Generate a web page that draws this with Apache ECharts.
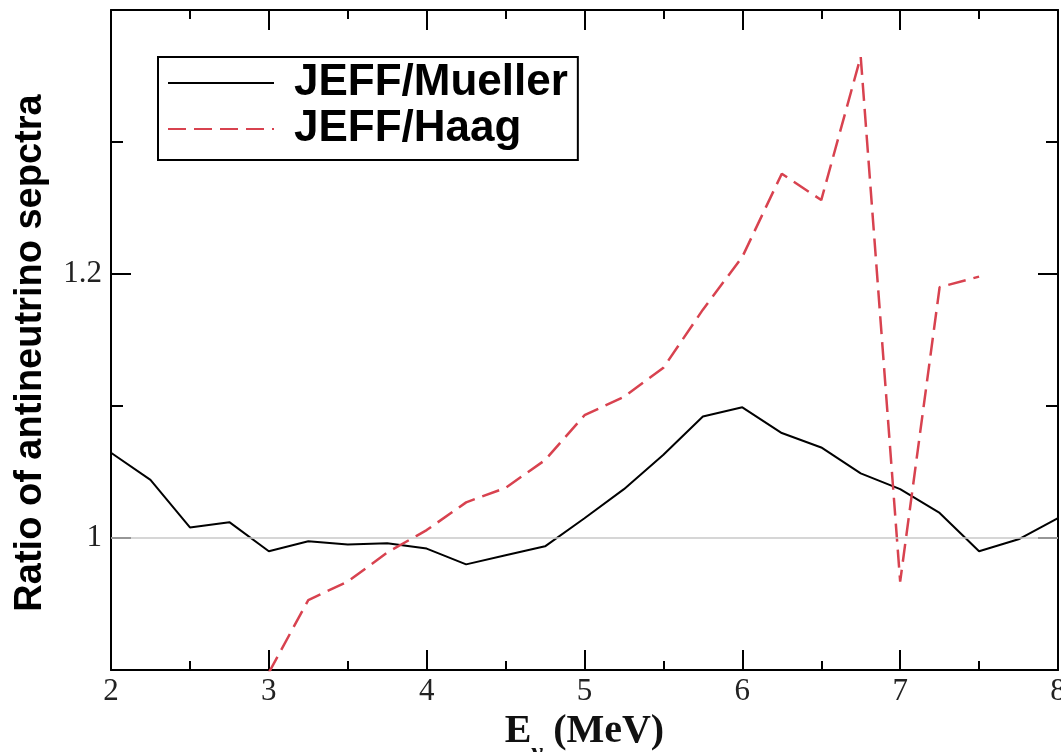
<!DOCTYPE html>
<html>
<head>
<meta charset="utf-8">
<script src="https://cdn.jsdelivr.net/npm/echarts@6/dist/echarts.min.js"></script>
<style>
html,body{margin:0;padding:0;background:#fff;}
#chart{width:1061px;height:752px;}
</style>
</head>
<body>
<div id="chart"></div>
<script>
// Energies (MeV)
var energies = [2, 2.25, 2.5, 2.75, 3, 3.25, 3.5, 3.75, 4, 4.25, 4.5, 4.75, 5, 5.25, 5.5, 5.75, 6, 6.25, 6.5, 6.75, 7, 7.25, 7.5, 7.75, 8];
// JEFF/Mueller ratio
var muellerRatio = [1.0646, 1.044, 1.008, 1.012, 0.990, 0.9975, 0.995, 0.996, 0.992, 0.980, 0.987, 0.9937, 1.015, 1.037, 1.063, 1.092, 1.099, 1.0795, 1.0686, 1.049, 1.037, 1.019, 0.990, 0.999, 1.015];
// JEFF/Haag ratio (null = not drawn)
var haagRatio = [null, null, null, null, 0.898, 0.953, 0.967, 0.989, 1.006, 1.027, 1.038, 1.059, 1.093, 1.107, 1.129, 1.173, 1.213, 1.276, 1.256, 1.3646, 0.967, 1.190, 1.198, null, null];
var seriesNames = ['JEFF/Mueller', 'JEFF/Haag'];
var yMajorTicks = [1, 1.2, 1.4];
var yLabelValues = [1, 1.2];
var xTitle = '{m|E}{s|ν}{m| (MeV)}';
var yTitle = 'Ratio of antineutrino sepctra';

function pairs(vals) {
  var out = [];
  for (var i = 0; i < energies.length; i++) {
    if (vals[i] !== null) out.push([energies[i], vals[i]]);
  }
  return out;
}

var serifFont = '"Liberation Serif", "DejaVu Serif", serif';
var sansFont = '"Liberation Sans", Arial, sans-serif';

function xAx(pos, showLabels) {
  return {
    type: 'value', position: pos, min: 2, max: 8, interval: 1,
    axisLine: {show: true, lineStyle: {color: '#000', width: 2}},
    axisTick: {show: true, inside: true, length: 20, lineStyle: {color: '#000', width: 2}},
    minorTick: {show: true, splitNumber: 2, length: 9, lineStyle: {color: '#000', width: 2}},
    splitLine: {show: false},
    axisLabel: {show: showLabels, color: '#222', fontFamily: serifFont, fontSize: 31, margin: 6},
    name: showLabels ? xTitle : '',
    nameLocation: 'middle',
    nameGap: 27,
    nameTextStyle: {
      rich: {
        m: {fontFamily: serifFont, fontWeight: 'bold', fontSize: 40, color: '#111', lineHeight: 40, verticalAlign: 'top'},
        s: {fontFamily: serifFont, fontWeight: 'bold', fontSize: 26, color: '#111', lineHeight: 26, verticalAlign: 'top', padding: [28, 0, 0, 0]}
      }
    }
  };
}

function yAx(pos, major, showLabels, showLine) {
  var ax = {
    type: 'value', position: pos, min: 0.9, max: 1.4, interval: 0.1,
    axisLine: {show: showLine, lineStyle: {color: '#000', width: 2}},
    axisTick: {show: true, inside: true, length: major ? 20 : 12, lineStyle: {color: '#000', width: 2}},
    splitLine: {show: false},
    axisLabel: {show: showLabels, color: '#222', fontFamily: serifFont, fontSize: 31, margin: 9,
      formatter: function (v) { return String(Math.round(v * 10) / 10); }}
  };
  if (major) ax.axisTick.customValues = yMajorTicks;
  if (showLabels) {
    ax.axisLabel.customValues = yLabelValues;
    ax.name = yTitle;
    ax.nameLocation = 'middle';
    ax.nameRotate = 90;
    ax.nameGap = 61;
    ax.nameTextStyle = {fontFamily: sansFont, fontWeight: 'bold', fontSize: 38, color: '#000', padding: [0, 26, 0, 0]};
  }
  return ax;
}

var chart = echarts.init(document.getElementById('chart'), null, {renderer: 'canvas'});
chart.setOption({
  backgroundColor: '#fff',
  animation: false,
  grid: {left: 111, right: 3, top: 10, bottom: 82, containLabel: false, outerBoundsMode: 'none'},
  xAxis: [xAx('bottom', true), xAx('top', false)],
  yAxis: [
    yAx('left', false, false, true),
    yAx('left', true, true, false),
    yAx('right', false, false, true),
    yAx('right', true, false, false)
  ],
  legend: {
    orient: 'vertical', left: 158, top: 57,
    borderColor: '#000', borderWidth: 2, borderRadius: 0,
    padding: [3, 10, 8, 9],
    itemWidth: 106, itemHeight: 14, itemGap: 0,
    itemStyle: {opacity: 0},
    textStyle: {fontFamily: sansFont, fontWeight: 'bold', fontSize: 44, color: '#000', lineHeight: 46, padding: [0, 0, 0, 15]},
    data: seriesNames
  },
  series: [
    {
      name: seriesNames[0], type: 'line', xAxisIndex: 0, yAxisIndex: 0,
      data: pairs(muellerRatio), symbol: 'none', z: 3,
      lineStyle: {color: '#000', width: 2},
      itemStyle: {color: '#000'},
      markLine: {
        silent: true, symbol: 'none', label: {show: false},
        lineStyle: {color: '#c8c8c8', width: 1.5, type: 'solid'},
        data: [{yAxis: 1}]
      }
    },
    {
      name: seriesNames[1], type: 'line', xAxisIndex: 0, yAxisIndex: 0,
      data: pairs(haagRatio), symbol: 'none', z: 4,
      lineStyle: {color: '#d8424f', width: 2.5, type: [18, 8]},
      itemStyle: {color: '#d8424f'}
    }
  ]
});
</script>
</body>
</html>
